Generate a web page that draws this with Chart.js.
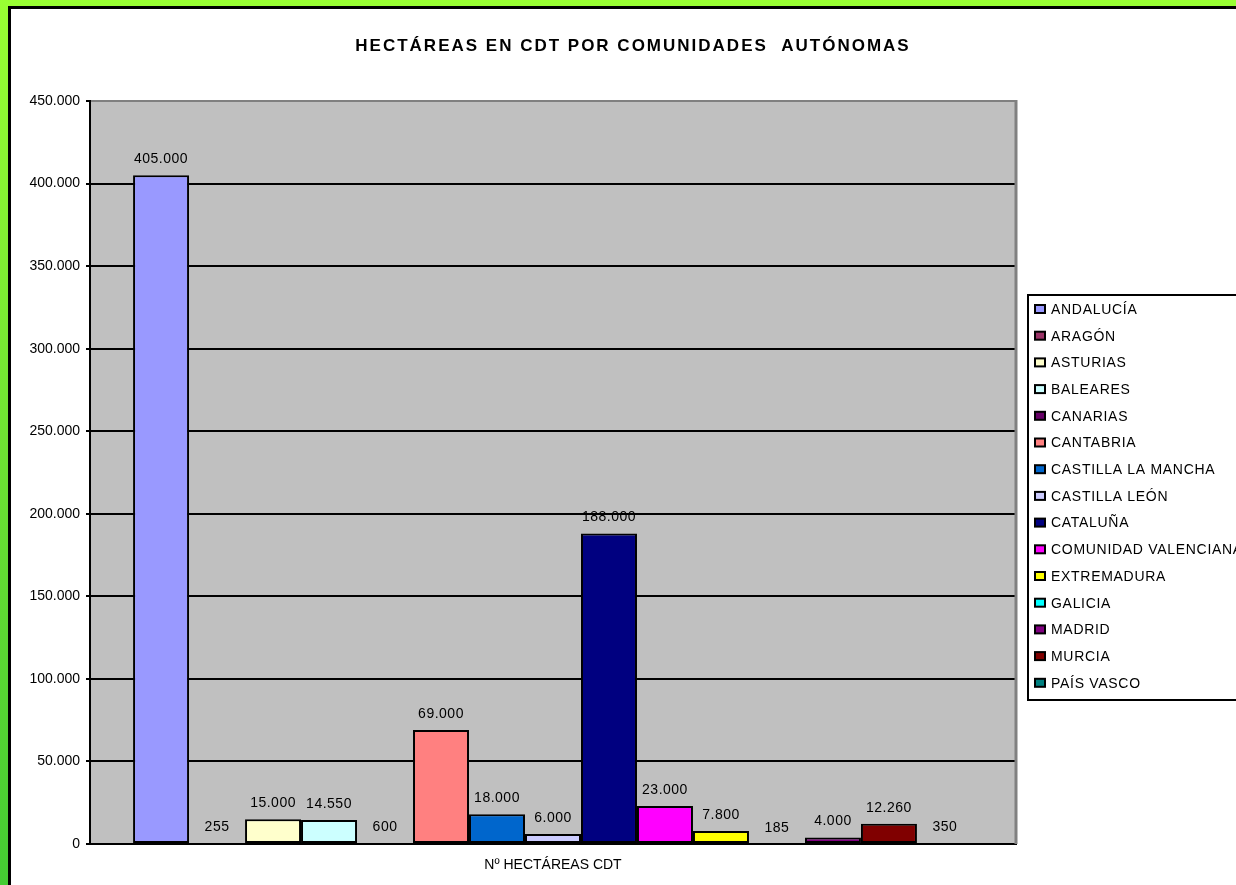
<!DOCTYPE html>
<html>
<head>
<meta charset="utf-8">
<script src="https://cdn.jsdelivr.net/npm/chart.js@4.4.1/dist/chart.umd.min.js"></script>
<style>
  html, body { margin: 0; padding: 0; width: 1236px; height: 885px; overflow: hidden; }
  body { background: linear-gradient(to bottom, #99FF33 0%, #66DD33 60%, #44CC33 100%); position: relative; }
  #frame { position: absolute; left: 8px; top: 6px; width: 1240px; height: 890px; background: #fff;
           border-top: 3px solid #000; border-left: 3px solid #000; }
  canvas { position: absolute; left: 0; top: 0; }
</style>
</head>
<body>
<div id="frame"><canvas id="c" width="1225" height="876"></canvas></div>
<script>
const title = "HECTÁREAS EN CDT POR COMUNIDADES  AUTÓNOMAS";
const categories = ["Nº HECTÁREAS CDT"];
const regions = ["ANDALUCÍA","ARAGÓN","ASTURIAS","BALEARES","CANARIAS","CANTABRIA","CASTILLA LA MANCHA","CASTILLA LEÓN","CATALUÑA","COMUNIDAD VALENCIANA","EXTREMADURA","GALICIA","MADRID","MURCIA","PAÍS VASCO"];
const hectares = [405000, 255, 15000, 14550, 600, 69000, 18000, 6000, 188000, 23000, 7800, 185, 4000, 12260, 350];
const colors = ["#9999FF","#993366","#FFFFCC","#CCFFFF","#660066","#FF8080","#0066CC","#CCCCFF","#000080","#FF00FF","#FFFF00","#00FFFF","#800080","#800000","#008080"];
const yTicks = [0, 50000, 100000, 150000, 200000, 250000, 300000, 350000, 400000, 450000];

const FONT = "'Liberation Sans', Arial, sans-serif";
const fmt = v => String(v).replace(/\B(?=(\d{3})+(?!\d))/g, ".");

const datasets = regions.map((r, i) => ({
  label: r,
  data: [hectares[i]],
  backgroundColor: colors[i],
  borderColor: "#000",
  borderWidth: 2,
  borderSkipped: false
}));

const decor = {
  id: "decor",
  beforeDraw(chart) {
    const { ctx, chartArea: a } = chart;
    ctx.save();
    ctx.fillStyle = "#C0C0C0";
    ctx.fillRect(a.left, a.top, a.right - a.left, a.bottom - a.top);
    ctx.restore();
  },
  afterDatasetsDraw(chart) {
    const { ctx, chartArea: a } = chart;
    ctx.save();
    // right gray border of plot area
    ctx.strokeStyle = "#808080";
    ctx.lineWidth = 3;
    ctx.beginPath();
    ctx.moveTo(a.right, a.top - 1);
    ctx.lineTo(a.right, a.bottom);
    ctx.stroke();
    // value labels
    ctx.fillStyle = "#000";
    ctx.font = "14px " + FONT;
    ctx.letterSpacing = "0.5px";
    ctx.textAlign = "center";
    ctx.textBaseline = "bottom";
    chart.data.datasets.forEach((ds, i) => {
      const meta = chart.getDatasetMeta(i);
      meta.data.forEach((bar, j) => {
        ctx.fillText(fmt(ds.data[j]), bar.x, bar.y - 9);
      });
    });
    // title
    ctx.font = "bold 17px " + FONT;
    ctx.letterSpacing = "2px";
    ctx.textBaseline = "middle";
    ctx.fillText(title, 633 - 11, 37);
    // legend
    const lx = 1017, ly = 286, lh = 405;
    ctx.fillStyle = "#fff";
    ctx.fillRect(lx, ly, 300, lh);
    ctx.strokeStyle = "#000";
    ctx.lineWidth = 2;
    ctx.strokeRect(lx, ly, 300, lh);
    ctx.font = "14px " + FONT;
    ctx.letterSpacing = "0.7px";
    ctx.textAlign = "left";
    chart.data.datasets.forEach((ds, i) => {
      const y = 300 + i * 26.7;
      ctx.fillStyle = ds.backgroundColor;
      ctx.fillRect(lx + 7, y - 4, 10, 8);
      ctx.strokeStyle = "#000";
      ctx.lineWidth = 2;
      ctx.strokeRect(lx + 7, y - 4, 10, 8);
      ctx.fillStyle = "#000";
      ctx.fillText(ds.label, lx + 23, y + 1);
    });
    ctx.restore();
  }
};

new Chart(document.getElementById("c"), {
  type: "bar",
  data: { labels: categories, datasets },
  options: {
    responsive: false,
    animation: false,
    layout: { padding: { left: 0, top: 92, right: 220, bottom: 0 } },
    datasets: { bar: { categoryPercentage: 0.907, barPercentage: 1 } },
    plugins: { legend: { display: false }, title: { display: false }, tooltip: { enabled: false } },
    scales: {
      x: {
        grid: { display: false, drawTicks: false },
        border: { display: true, color: "#000", width: 2 },
        ticks: { color: "#000", font: { family: FONT, size: 14 }, padding: 13 },
        afterFit: s => { s.height = 41; }
      },
      y: {
        min: 0, max: 450000,
        afterBuildTicks: s => { s.ticks = yTicks.map(v => ({ value: v })); },
        grid: {
          color: c => (c.tick && c.tick.value === 450000) ? "#808080" : "#000",
          lineWidth: 2,
          tickLength: 4,
          tickColor: "#000"
        },
        border: { display: true, color: "#000", width: 2 },
        ticks: { color: "#000", font: { family: FONT, size: 14 }, padding: 6, callback: v => fmt(v) },
        afterFit: s => { s.width = 79; }
      }
    }
  },
  plugins: [decor]
});
</script>
</body>
</html>
